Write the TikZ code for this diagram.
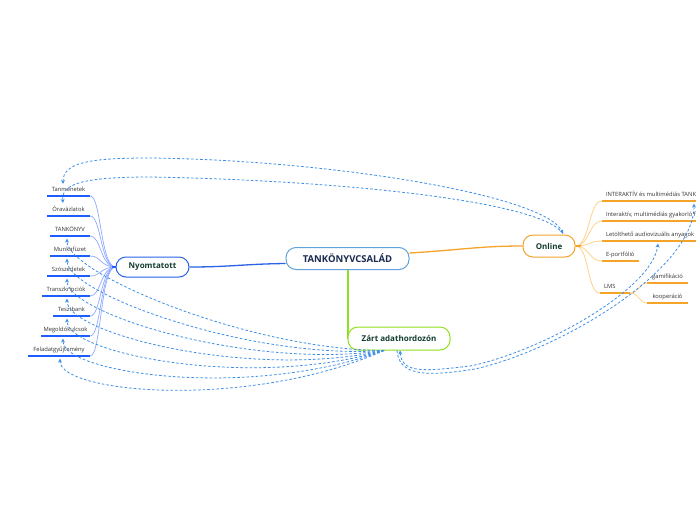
\documentclass[tikz,border=0pt]{standalone}
\usepackage{fontspec}
\setmainfont{Open Sans}
\usetikzlibrary{arrows.meta,backgrounds}
\definecolor{cborder}{HTML}{5FA3DA}
\definecolor{ctext}{HTML}{1B2A50}
\definecolor{tgreen}{HTML}{123D2E}
\definecolor{nblue}{HTML}{2A62E6}
\definecolor{lblue}{HTML}{1E5EFF}
\definecolor{lcurve}{HTML}{8EA9FF}
\definecolor{oorange}{HTML}{F5A42A}
\definecolor{ocurve}{HTML}{FFD38A}
\definecolor{zgreen}{HTML}{8FE01F}
\definecolor{relblue}{HTML}{3F8FE6}
\tikzset{
 mainbox/.style={draw, fill=white, rounded corners=10pt, line width=1pt, inner sep=0pt, text=tgreen, font=\bfseries\fontsize{8}{10}\selectfont},
 lline/.style={fill=lblue, inner sep=0pt, minimum height=1.8pt},
 oline/.style={fill=oorange, inner sep=0pt, minimum height=1.8pt},
 ltext/.style={inner sep=0pt, anchor=base, font=\fontsize{5.8}{7}\selectfont, text=black!80},
 otext/.style={inner sep=0pt, anchor=base west, font=\fontsize{5.8}{7}\selectfont, text=black!80},
 lconn/.style={draw=lcurve, line width=0.7pt},
 oconn/.style={draw=ocurve, line width=0.8pt},
 rel/.style={draw=relblue, line width=0.8pt, dash pattern=on 2.6pt off 2pt},
 relend/.style={-{Stealth[length=4pt,width=4pt]}},
 relboth/.style={{Stealth[length=4pt,width=4pt]}-{Stealth[length=4pt,width=4pt]}},
}
\begin{document}
\begin{tikzpicture}[x=1pt,y=-1pt]
\useasboundingbox (0,0) rectangle (696,520);
% main nodes
\node[mainbox, draw=cborder, text=ctext, font=\bfseries\fontsize{9.5}{11}\selectfont, minimum width=123pt, minimum height=22pt] (c) at (347.5,258.5) {TANKÖNYVCSALÁD};
\node[mainbox, draw=nblue, minimum width=73pt, minimum height=20pt] (nyom) at (152.5,267) {Nyomtatott};
\node[mainbox, draw=oorange, minimum width=52pt, minimum height=22pt] (online) at (549,246) {Online};
\node[mainbox, draw=zgreen, minimum width=102pt, minimum height=23pt] (zart) at (399,338.5) {Zárt adathordozón};
% left leaves
\node[lline, minimum width=43pt] (l1) at (68.5,196) {};
\node[lline, minimum width=43pt] (l2) at (68.5,216) {};
\node[lline, minimum width=40pt] (l3) at (70,236) {};
\node[lline, minimum width=40pt] (l4) at (70,256) {};
\node[lline, minimum width=43pt] (l5) at (68.5,276) {};
\node[lline, minimum width=48pt] (l6) at (66,296) {};
\node[lline, minimum width=37pt] (l7) at (71.5,316) {};
\node[lline, minimum width=49pt] (l8) at (65.5,336) {};
\node[lline, minimum width=62pt] (l9) at (59,356) {};
\node[ltext] (t1) at ([yshift=4.5pt]l1.center) {Tanmenetek};
\node[ltext] (t2) at ([yshift=4.5pt]l2.center) {Óravázlatok};
\node[ltext] (t3) at ([yshift=4.5pt]l3.center) {TANKÖNYV};
\node[ltext] (t4) at ([yshift=4.5pt]l4.center) {Munkafüzet};
\node[ltext] (t5) at ([yshift=4.5pt]l5.center) {Szószedetek};
\node[ltext] (t6) at ([yshift=4.5pt]l6.center) {Transzkripciók};
\node[ltext] (t7) at ([yshift=4.5pt]l7.center) {Tesztbank};
\node[ltext] (t8) at ([yshift=4.5pt]l8.center) {Megoldókulcsok};
\node[ltext] (t9) at ([yshift=4.5pt]l9.center) {Feladatgyűjtemény};
% right leaves
\node[oline, minimum width=184pt] (o1) at (694,201) {};
\node[oline, minimum width=184pt] (o2) at (694,221) {};
\node[oline, minimum width=98pt] (o3) at (651,241) {};
\node[oline, minimum width=37pt] (o4) at (620.5,261) {};
\node[oline, minimum width=30pt] (o5) at (615,293) {};
\node[oline, minimum width=41pt] (o6) at (667.5,283) {};
\node[oline, minimum width=41pt] (o7) at (667.5,303) {};
\node[otext] (p1) at ([xshift=4pt,yshift=4.5pt]o1.west) {INTERAKTÍV és multimédiás TANKÖNYV};
\node[otext] (p2) at ([xshift=4pt,yshift=4.5pt]o2.west) {Interaktív, multimédiás gyakorló feladatok};
\node[otext] (p3) at ([xshift=4pt,yshift=4.5pt]o3.west) {Letölthető audiovizuális anyagok};
\node[otext] (p4) at ([xshift=4pt,yshift=4.5pt]o4.west) {E-portfólió};
\node[otext] (p5) at ([xshift=4pt,yshift=4.5pt]o5.west) {LMS};
\node[ltext] (p6) at ([yshift=4.5pt]o6.center) {gamifikáció};
\node[ltext] (p7) at ([yshift=4.5pt]o7.center) {kooperáció};
% tree connectors
\begin{scope}[on background layer]
\fill[white] (0,0) rectangle (696,520);
\draw[nblue, line width=1.3pt] (nyom.east) .. controls (230,267) and (245,264) .. ([yshift=-5pt]c.west);
\draw[oorange, line width=1.3pt] ([yshift=5.5pt]c.east) .. controls (460,250) and (480,246) .. (online.west);
\draw[draw=zgreen, line width=2pt] (c.south) -- (c.south |- zart.west);
\foreach \i in {1,...,9} \draw[lconn] (nyom.west) .. controls +(-15,0) and +(11,0) .. (l\i.east);
\draw[lblue, line width=1.6pt] (nyom.west) -- ++(-4,0);
\foreach \i in {1,...,5} \draw[oconn] (online.east) .. controls +(14,0) and +(-13,0) .. (o\i.west);
\draw[oorange, line width=1.6pt] (online.east) -- ++(5,0);
\draw[oconn] (o5.east) .. controls +(9,0) and +(-8,0) .. (o6.west);
\draw[oconn] (o5.east) .. controls +(9,0) and +(-8,0) .. (o7.west);
\end{scope}
% relationships
\draw[rel, relboth] ([xshift=-5.5pt,yshift=3pt]t1.north) .. controls +(0,-22) and (92,158) .. (150,158) .. controls (330,160) and (545,195) .. ([xshift=14pt,yshift=1pt]online.north);
\draw[rel, relend] ([xshift=14pt,yshift=1pt]online.north) .. controls (540,200) and (330,180) .. (150,177) .. controls (82,177) and (61,184) .. ([xshift=-5.5pt,yshift=3pt]t2.north);
\foreach \i/\yy/\dx in {3/350/-3,4/360/-3,5/370/-1.5,6/380/1,7/390/-4.5,8/400/-2.5,9/410/1}
  \draw[rel, relend] ([xshift=-15pt]zart.south) .. controls (250,\yy) and +(0,35) .. ([xshift=\dx pt,yshift=-1.5pt]l\i.south);
\draw[rel, relboth] ([xshift=1pt]zart.south) .. controls +(2,22) and (420,372) .. (470,366) .. controls (540,352) and (652,290) .. ([xshift=7pt,yshift=-1.5pt]o3.south);
\draw[rel, relend] ([xshift=-2pt]zart.south) .. controls +(2,25) and (425,377) .. (475,369) .. controls (560,350) and (694,270) .. ([yshift=-1.5pt]o1.south);
\end{tikzpicture}
\end{document}
